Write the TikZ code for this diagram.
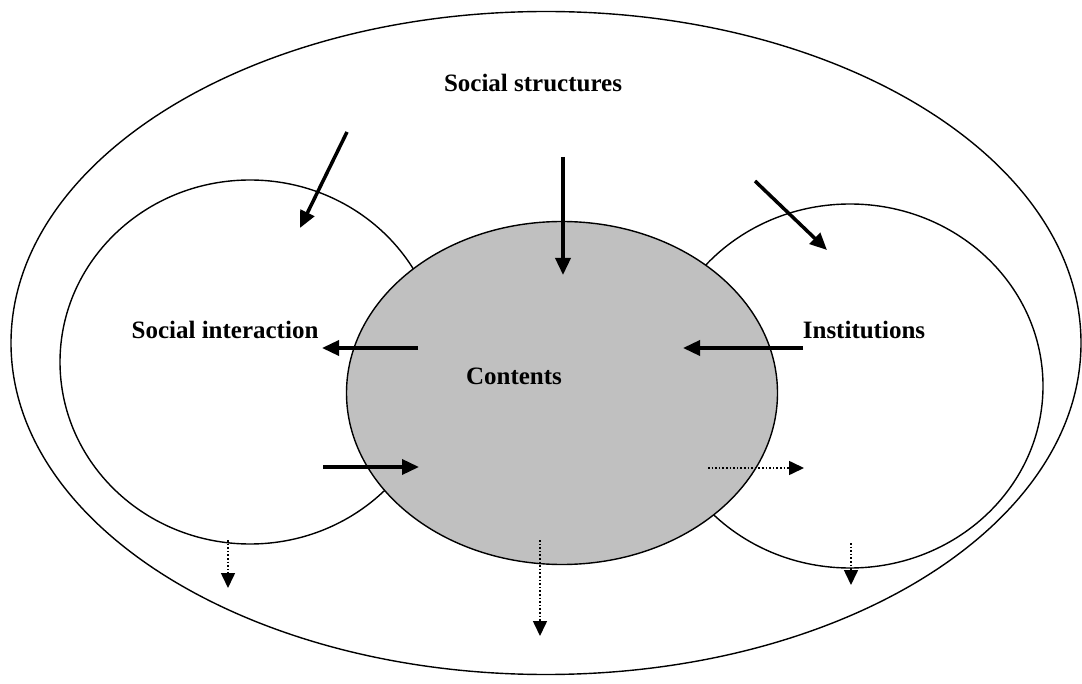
\documentclass[tikz,border=0pt]{standalone}
\usepackage{fontspec}
\setmainfont{Liberation Serif}
\usetikzlibrary{arrows.meta,shapes.geometric}
\definecolor{contentgray}{RGB}{192,192,192}
\tikzset{
  ring/.style={draw=black,line width=1.4pt,ellipse,inner sep=0pt},
  lbl/.style={font=\fontsize{25}{28}\selectfont\bfseries,inner sep=0pt},
  strong/.style={line width=3.5pt,-{Triangle[length=17pt,width=15pt]}},
  weak/.style={line width=1.6pt,dotted,-{Triangle[length=15pt,width=14pt]}}
}
\begin{document}
\begin{tikzpicture}[x=1pt,y=-1pt]
\useasboundingbox (0,0) rectangle (1082,684);
\node[ring,minimum width=1070pt,minimum height=663pt] (outer) at (546,343) {};
\node[ring,minimum width=380pt,minimum height=364pt] (inter) at (250,362) {};
\node[ring,minimum width=386pt,minimum height=364pt] (inst) at (850,386) {};
\node[ring,fill=contentgray,minimum width=431pt,minimum height=343pt] (cont) at (562,393) {};
\node[lbl] (tss) at (533,83) {Social structures};
\node[lbl] (tsi) at (225,330) {Social interaction};
\node[lbl] (tin) at (864,330) {Institutions};
\node[lbl] (tco) at (514,376) {Contents};
% solid arrow endpoints
\coordinate (a1s) at (347,132); \coordinate (a1e) at (300,228);
\coordinate (a2s) at (563,157); \coordinate (a2e) at (563,275);
\coordinate (a3s) at (755,181); \coordinate (a3e) at (827,250);
\coordinate (a4s) at (418,348); \coordinate (a4e) at (322,348);
\coordinate (a5s) at (803,348); \coordinate (a5e) at (683,348);
\coordinate (a6s) at (323,467); \coordinate (a6e) at (419,467);
% dotted arrow endpoints
\coordinate (d1s) at (708,468); \coordinate (d1e) at (804,468);
\coordinate (d2s) at (228,540); \coordinate (d2e) at (228,588);
\coordinate (d3s) at (540,540); \coordinate (d3e) at (540,636);
\coordinate (d4s) at (851,543); \coordinate (d4e) at (851,585);
\draw[strong] (a1s) -- (a1e);
\draw[strong] (a2s) -- (a2e);
\draw[strong] (a3s) -- (a3e);
\draw[strong] (a4s) -- (a4e);
\draw[strong] (a5s) -- (a5e);
\draw[strong] (a6s) -- (a6e);
\draw[weak] (d1s) -- (d1e);
\draw[weak] (d2s) -- (d2e);
\draw[weak] (d3s) -- (d3e);
\draw[weak] (d4s) -- (d4e);
\end{tikzpicture}
\end{document}
